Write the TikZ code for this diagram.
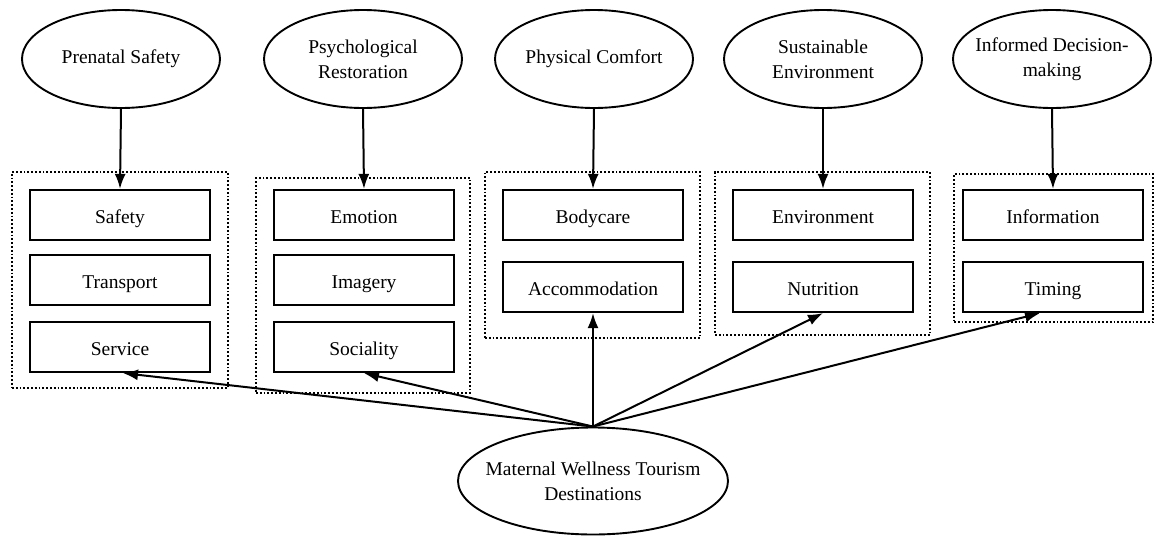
\documentclass[tikz,border=0pt]{standalone}
\usepackage{fontspec}
\setmainfont{Liberation Serif}
\usetikzlibrary{shapes.geometric,arrows.meta}
\begin{document}
\begin{tikzpicture}[x=1pt,y=-1pt,
  font=\fontsize{19.5}{25}\selectfont,
  topell/.style={ellipse,draw,line width=1.9pt,minimum width=198pt,minimum height=98pt,inner xsep=-9pt,inner ysep=0pt,align=center},
  botell/.style={ellipse,draw,line width=1.9pt,minimum width=270pt,minimum height=107pt,inner xsep=-12pt,inner ysep=0pt,align=center},
  itembox/.style={rectangle,draw,line width=2.2pt,minimum width=180pt,minimum height=50pt,inner sep=0pt,text height=16pt,text depth=0pt},
  groupbox/.style={rectangle,draw,dotted,line width=1.8pt,inner sep=0pt},
  arr/.style={line width=2pt,-{Latex[length=15pt,width=11pt]}}]
\useasboundingbox (0,0) rectangle (1157,536);
% dotted group boxes
\node[groupbox,minimum width=216pt,minimum height=216pt] (g1) at (120,280) {};
\node[groupbox,minimum width=214pt,minimum height=215pt] (g2) at (363,285.5) {};
\node[groupbox,minimum width=215pt,minimum height=166pt] (g3) at (592.5,255) {};
\node[groupbox,minimum width=215pt,minimum height=163pt] (g4) at (822.5,253.5) {};
\node[groupbox,minimum width=199pt,minimum height=148pt] (g5) at (1053.5,248) {};
% top ellipses
\node[topell] (e1) at (121,59) {Prenatal Safety};
\node[topell] (e2) at (363,59) {Psychological\\Restoration};
\node[topell] (e3) at (594,59) {Physical Comfort};
\node[topell] (e4) at (823,59) {Sustainable\\Environment};
\node[topell] (e5) at (1052,59) {Informed Decision-\\making};
% item boxes
\node[itembox] (safety) at (120,215) {Safety};
\node[itembox] (transport) at (120,280) {Transport};
\node[itembox] (service) at (120,347) {Service};
\node[itembox] (emotion) at (364,215) {Emotion};
\node[itembox] (imagery) at (364,280) {Imagery};
\node[itembox] (sociality) at (364,347) {Sociality};
\node[itembox] (bodycare) at (593,215) {Bodycare};
\node[itembox] (accom) at (593,287) {Accommodation};
\node[itembox] (environment) at (823,215) {Environment};
\node[itembox] (nutrition) at (823,287) {Nutrition};
\node[itembox] (information) at (1053,215) {Information};
\node[itembox] (timing) at (1053,287) {Timing};
% bottom ellipse
\node[botell] (mw) at (593,481) {Maternal Wellness Tourism\\Destinations};
% top arrows
\draw[arr] (e1.south) -- (safety.north);
\draw[arr] (e2.south) -- (emotion.north);
\draw[arr] (e3.south) -- (bodycare.north);
\draw[arr] (e4.south) -- (environment.north);
\draw[arr] (e5.south) -- (information.north);
% bottom arrows
\draw[arr] (mw.north) -- ([xshift=3pt]service.south);
\draw[arr] (mw.north) -- (sociality.south);
\draw[arr] (mw.north) -- (accom.south);
\draw[arr] (mw.north) -- (nutrition.south);
\draw[arr] (mw.north) -- ([xshift=-13pt]timing.south);
\end{tikzpicture}
\end{document}
